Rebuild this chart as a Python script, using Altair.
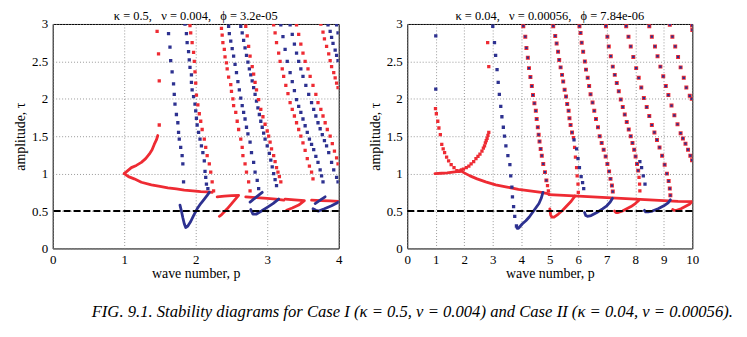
import altair as alt
import pandas as pd

SERIF = "Liberation Serif"
RED = "#ee2b33"
BLUE = "#2d3190"

Y_TICKS = [0, 0.5, 1, 1.5, 2, 2.5, 3]
REF_LEVEL = [0.5]

TITLE_LEFT = "κ = 0.5,\u00a0\u00a0 ν = 0.004,\u00a0\u00a0 ϕ = 3.2e-05"
TITLE_RIGHT = "κ = 0.04,\u00a0\u00a0 ν = 0.00056,\u00a0\u00a0 ϕ = 7.84e-06"
CAPTION = ("FIG. 9.1. Stability diagrams for Case I (κ = 0.5, ν = 0.004) "
           "and Case II (κ = 0.04, ν = 0.00056).")

# ---------------- Case I (left panel) : dotted branches ----------------
L_red_a_p = [1.49, 1.49, 1.48, 1.46]
L_red_a_t = [1.65, 2.24, 2.60, 2.90]
L_blue_b_p = [1.62, 1.64, 1.65, 1.67, 1.69, 1.70, 1.71, 1.73, 1.75, 1.76, 1.77, 1.79, 1.81, 1.82, 1.83]
L_blue_b_t = [2.87, 2.69, 2.51, 2.36, 2.20, 2.06, 1.93, 1.79, 1.68, 1.55, 1.46, 1.35, 1.24, 1.13, 0.89]
L_blue_c_p = [1.85, 1.87, 1.88, 1.90, 1.91, 1.92, 1.94, 1.94, 1.95, 1.97, 1.99, 2.00, 2.01, 2.02, 2.04, 2.06, 2.08, 2.10, 2.12, 2.13, 2.14, 2.15, 2.17]
L_blue_c_t = [3.00, 2.87, 2.75, 2.63, 2.52, 2.42, 2.32, 2.22, 2.12, 2.03, 1.93, 1.84, 1.74, 1.65, 1.55, 1.46, 1.37, 1.28, 1.17, 1.03, 0.95, 0.86, 0.80]
L_red_d_p = [1.92, 1.93, 1.95, 1.97, 1.98, 1.99, 2.00, 2.01, 2.03, 2.05, 2.07, 2.09, 2.12, 2.14, 2.16, 2.19, 2.21, 2.23, 2.25]
L_red_d_t = [2.98, 2.88, 2.75, 2.62, 2.50, 2.36, 2.21, 2.05, 1.92, 1.80, 1.70, 1.59, 1.46, 1.35, 1.24, 1.13, 1.02, 0.89, 0.77]
L_red_e_p = [2.36, 2.37, 2.38, 2.40, 2.41, 2.43, 2.44, 2.46, 2.49, 2.50, 2.52, 2.53, 2.56, 2.58, 2.60, 2.63, 2.65, 2.66, 2.69, 2.71, 2.74, 2.76]
L_red_e_t = [2.94, 2.85, 2.75, 2.66, 2.56, 2.48, 2.40, 2.29, 2.19, 2.10, 2.00, 1.91, 1.82, 1.70, 1.59, 1.46, 1.35, 1.24, 1.13, 1.02, 0.89, 0.77]
L_blue_f_p = [2.46, 2.47, 2.49, 2.51, 2.53, 2.55, 2.57, 2.59, 2.61, 2.63, 2.65, 2.67, 2.69, 2.71, 2.73, 2.76, 2.78, 2.81, 2.83, 2.86, 2.88]
L_blue_f_t = [2.97, 2.87, 2.77, 2.67, 2.57, 2.46, 2.35, 2.23, 2.12, 2.01, 1.91, 1.82, 1.73, 1.62, 1.53, 1.42, 1.28, 1.15, 1.02, 0.91, 0.80]
L_blue_g_p = [2.63, 2.65, 2.67, 2.69, 2.71, 2.73, 2.75, 2.77, 2.79, 2.81, 2.83, 2.85, 2.87, 2.89, 2.91, 2.93, 2.95, 2.97, 3.00, 3.03, 3.05, 3.07, 3.09, 3.11, 3.13]
L_blue_g_t = [2.97, 2.88, 2.78, 2.68, 2.58, 2.49, 2.40, 2.32, 2.24, 2.15, 2.06, 1.97, 1.88, 1.79, 1.70, 1.62, 1.54, 1.46, 1.37, 1.27, 1.18, 1.09, 1.00, 0.92, 0.84]
L_red_h_p = [2.70, 2.72, 2.74, 2.76, 2.79, 2.81, 2.83, 2.85, 2.88, 2.91, 2.94, 2.97, 3.00, 3.02, 3.04, 3.06, 3.09, 3.11, 3.13, 3.15, 3.17, 3.19]
L_red_h_t = [2.97, 2.84, 2.70, 2.57, 2.43, 2.33, 2.22, 2.12, 1.99, 1.86, 1.76, 1.66, 1.57, 1.50, 1.42, 1.33, 1.24, 1.16, 1.08, 1.02, 0.96, 0.89]
L_red_i_p = [3.09, 3.11, 3.13, 3.16, 3.18, 3.21, 3.23, 3.26, 3.29, 3.32, 3.35, 3.38, 3.41, 3.44, 3.47, 3.50, 3.53, 3.56, 3.59, 3.62, 3.64]
L_red_i_t = [2.99, 2.88, 2.75, 2.61, 2.50, 2.40, 2.30, 2.18, 2.07, 1.95, 1.86, 1.77, 1.68, 1.59, 1.50, 1.41, 1.31, 1.20, 1.10, 1.02, 0.93]
L_blue_j_p = [3.19, 3.22, 3.25, 3.28, 3.32, 3.35, 3.38, 3.41, 3.44, 3.47, 3.50, 3.53, 3.56, 3.59, 3.62, 3.65, 3.68, 3.71, 3.74, 3.76, 3.78]
L_blue_j_t = [2.99, 2.83, 2.66, 2.50, 2.35, 2.23, 2.11, 1.99, 1.90, 1.82, 1.73, 1.64, 1.55, 1.46, 1.39, 1.32, 1.23, 1.15, 1.05, 0.97, 0.89]
L_blue_k_p = [3.32, 3.35, 3.38, 3.41, 3.44, 3.47, 3.50, 3.54, 3.58, 3.62, 3.65, 3.68, 3.71, 3.74, 3.77, 3.80, 3.83, 3.86, 3.90, 3.93, 3.97, 3.99]
L_blue_k_t = [2.99, 2.86, 2.73, 2.61, 2.50, 2.40, 2.30, 2.18, 2.06, 1.95, 1.86, 1.77, 1.68, 1.60, 1.52, 1.44, 1.37, 1.28, 1.15, 1.05, 0.95, 0.89]
L_red_l_p = [3.41, 3.44, 3.47, 3.50, 3.53, 3.57, 3.60, 3.64, 3.68, 3.71, 3.75, 3.78, 3.81, 3.84, 3.88, 3.91, 3.94, 3.97, 3.99]
L_red_l_t = [2.99, 2.86, 2.73, 2.61, 2.50, 2.40, 2.30, 2.18, 2.06, 1.95, 1.86, 1.77, 1.68, 1.59, 1.50, 1.40, 1.30, 1.21, 1.13]
L_red_m_p = [3.75, 3.78, 3.80, 3.83, 3.86, 3.88, 3.90, 3.93, 3.95, 3.97, 3.99]
L_red_m_t = [3.00, 2.89, 2.80, 2.70, 2.60, 2.51, 2.43, 2.35, 2.28, 2.21, 2.15]
L_blue_n_p = [3.85, 3.88, 3.90, 3.92, 3.95, 3.97, 3.99]
L_blue_n_t = [2.99, 2.90, 2.82, 2.74, 2.65, 2.58, 2.51]
L_blue_o_p = [3.97, 3.99]
L_blue_o_t = [2.99, 2.88]

# ---------------- Case I : dense (continuous-looking) branches ----------------
L_red_cup_p = [1.00, 1.05, 1.10, 1.17, 1.24, 1.30, 1.35, 1.39, 1.42, 1.45, 1.47]
L_red_cup_t = [1.00, 1.04, 1.08, 1.11, 1.15, 1.20, 1.26, 1.32, 1.39, 1.45, 1.51]
L_red_clow_p = [1.00, 1.06, 1.14, 1.24, 1.38, 1.50, 1.61, 1.73, 1.84, 1.96, 2.07, 2.16, 2.23]
L_red_clow_t = [1.00, 0.96, 0.93, 0.885, 0.85, 0.83, 0.81, 0.795, 0.78, 0.77, 0.76, 0.755, 0.75]
L_blue_chk1_p = [1.78, 1.80, 1.82, 1.84, 1.86, 1.89, 1.93, 1.97, 2.02, 2.07, 2.12, 2.16, 2.19]
L_blue_chk1_t = [0.58, 0.50, 0.41, 0.33, 0.28, 0.30, 0.36, 0.44, 0.53, 0.60, 0.66, 0.71, 0.75]
L_red_seven1_p = [2.30, 2.40, 2.50, 2.60, 2.52, 2.44, 2.36, 2.33]
L_red_seven1_t = [0.69, 0.70, 0.705, 0.71, 0.62, 0.53, 0.45, 0.43]
L_red_h2_p = [2.70, 2.85, 3.00, 3.12, 3.23]
L_red_h2_t = [0.69, 0.68, 0.67, 0.66, 0.645]
L_red_seven2_p = [3.25, 3.38, 3.52, 3.44, 3.35, 3.27]
L_red_seven2_t = [0.66, 0.65, 0.64, 0.58, 0.54, 0.51]
L_red_h3_p = [3.62, 3.75, 3.88, 4.00]
L_red_h3_t = [0.645, 0.64, 0.635, 0.63]
L_blue_chk2_p = [2.77, 2.80, 2.85, 2.92, 3.00, 3.08, 3.16]
L_blue_chk2_t = [0.52, 0.46, 0.46, 0.50, 0.55, 0.60, 0.66]
L_blue_diag2_p = [2.76, 2.85, 2.93]
L_blue_diag2_t = [0.62, 0.69, 0.75]
L_blue_chk3_p = [3.64, 3.68, 3.72, 3.80, 3.90, 4.00]
L_blue_chk3_t = [0.53, 0.51, 0.50, 0.53, 0.57, 0.62]
L_blue_diag3_p = [3.67, 3.74, 3.81]
L_blue_diag3_t = [0.60, 0.645, 0.69]

# ---------------- Case II (right panel) : dotted branches ----------------
R_blue_1_p = [1.00, 1.00]
R_blue_1_t = [2.84, 2.13]
R_red_ul_p = [0.99, 1.02, 1.07, 1.11, 1.16, 1.21, 1.26, 1.31, 1.38, 1.45, 1.54, 1.64, 1.74, 1.82]
R_red_ul_t = [1.87, 1.80, 1.70, 1.61, 1.52, 1.39, 1.33, 1.28, 1.22, 1.17, 1.12, 1.08, 1.04, 1.03]
R_red_ur_p = [1.90, 1.97, 2.07, 2.16, 2.24, 2.33, 2.41, 2.48, 2.55, 2.62, 2.67, 2.71, 2.74, 2.77, 2.80, 2.83, 2.86]
R_red_ur_t = [1.05, 1.06, 1.08, 1.10, 1.13, 1.16, 1.20, 1.23, 1.26, 1.30, 1.34, 1.37, 1.41, 1.44, 1.47, 1.51, 1.55]
R_red_sp_p = [2.82, 2.86]
R_red_sp_t = [2.75, 2.43]
R_blue_3_p = [3.00, 3.06, 3.10, 3.15, 3.19, 3.23, 3.28, 3.32, 3.37, 3.41, 3.46, 3.53, 3.60, 3.63, 3.67, 3.69, 3.73, 3.77, 3.83]
R_blue_3_t = [2.97, 2.75, 2.58, 2.39, 2.22, 2.06, 1.90, 1.76, 1.62, 1.50, 1.37, 1.24, 1.12, 0.97, 0.82, 0.69, 0.56, 0.43, 0.30]
R_red_4b_p = [4.92, 4.95]
R_red_4b_t = [0.84, 0.77]
R_red_5b_p = [5.83, 5.87, 5.90, 5.94, 5.96, 5.99, 6.00]
R_red_5b_t = [1.48, 1.35, 1.22, 1.08, 0.97, 0.86, 0.75]
R_blue_5b_p = [5.85, 5.94, 5.99, 6.04, 6.10, 6.15, 6.19]
R_blue_5b_t = [1.45, 1.33, 1.20, 1.08, 0.96, 0.88, 0.80]
R_red_7b_p = [8.13, 8.15, 8.16]
R_red_7b_t = [0.95, 0.86, 0.77]
R_blue_7b_p = [8.16, 8.22, 8.28, 8.34]
R_blue_7b_t = [1.16, 1.08, 0.97, 0.86]

# branches where red and blue dots coincide
R_both_4_p = [4.07, 4.14, 4.18, 4.23, 4.27, 4.32, 4.37, 4.41, 4.46, 4.51, 4.54, 4.58, 4.61, 4.64, 4.68, 4.72, 4.77, 4.83, 4.88]
R_both_4_t = [2.97, 2.83, 2.68, 2.55, 2.41, 2.29, 2.17, 2.05, 1.94, 1.84, 1.73, 1.62, 1.52, 1.43, 1.33, 1.24, 1.13, 1.02, 0.91]
R_both_5_p = [5.12, 5.19, 5.24, 5.29, 5.33, 5.38, 5.43, 5.47, 5.52, 5.57, 5.61, 5.66, 5.69, 5.73, 5.78]
R_both_5_t = [2.97, 2.84, 2.74, 2.63, 2.52, 2.42, 2.32, 2.23, 2.12, 2.03, 1.93, 1.84, 1.74, 1.65, 1.55]
R_both_6_p = [6.04, 6.08, 6.12, 6.17, 6.23, 6.27, 6.33, 6.38, 6.43, 6.50, 6.56, 6.62, 6.69, 6.75, 6.82, 6.89, 6.96, 7.02, 7.08, 7.13, 7.18, 7.21]
R_both_6_t = [2.97, 2.88, 2.75, 2.63, 2.50, 2.39, 2.28, 2.17, 2.06, 1.95, 1.84, 1.73, 1.62, 1.50, 1.41, 1.32, 1.23, 1.13, 1.03, 0.93, 0.84, 0.76]
R_both_7_p = [6.97, 7.02, 7.07, 7.14, 7.21, 7.28, 7.35, 7.42, 7.49, 7.56, 7.63, 7.70, 7.77, 7.84, 7.90, 7.96, 8.01, 8.06, 8.10]
R_both_7_t = [2.97, 2.83, 2.70, 2.57, 2.43, 2.32, 2.21, 2.10, 1.99, 1.89, 1.79, 1.69, 1.59, 1.50, 1.41, 1.32, 1.23, 1.13, 1.04]
R_both_8_p = [7.68, 7.76, 7.84, 7.93, 8.03, 8.12, 8.21, 8.30, 8.40, 8.49, 8.58, 8.67, 8.76, 8.85, 8.94, 9.03, 9.11, 9.17, 9.21, 9.23]
R_both_8_t = [2.97, 2.83, 2.70, 2.56, 2.41, 2.28, 2.15, 2.01, 1.89, 1.77, 1.65, 1.55, 1.45, 1.35, 1.24, 1.12, 1.00, 0.90, 0.80, 0.71]
R_both_9_p = [8.49, 8.58, 8.69, 8.78, 8.88, 8.98, 9.07, 9.16, 9.27, 9.37, 9.48, 9.59, 9.67, 9.76, 9.85, 9.93, 9.99]
R_both_9_t = [2.97, 2.83, 2.70, 2.57, 2.43, 2.30, 2.17, 2.05, 1.91, 1.78, 1.66, 1.54, 1.47, 1.40, 1.32, 1.24, 1.18]
R_both_10_p = [9.21, 9.30, 9.40, 9.50, 9.59, 9.70, 9.79, 9.91, 9.98]
R_both_10_t = [2.99, 2.83, 2.70, 2.56, 2.42, 2.28, 2.15, 2.04, 2.00]
R_both_11_p = [9.99, 10.0]
R_both_11_t = [2.98, 2.92]

# ---------------- Case II : dense branches ----------------
R_red_h1_p = [0.97, 1.20, 1.40, 1.60, 1.80, 1.86]
R_red_h1_t = [1.00, 1.005, 1.01, 1.02, 1.03, 1.04]
R_red_long_p = [1.86, 2.0, 2.2, 2.45, 2.75, 3.1, 3.5, 3.9, 4.3, 4.7, 4.97]
R_red_long_t = [1.04, 1.01, 0.97, 0.93, 0.89, 0.85, 0.82, 0.79, 0.77, 0.75, 0.73]
R_red_hr_p = [4.97, 5.5, 6.0, 6.5, 7.0, 7.5, 8.0, 8.5, 9.0, 9.5, 10.0]
R_red_hr_t = [0.72, 0.71, 0.70, 0.69, 0.68, 0.67, 0.66, 0.65, 0.64, 0.63, 0.625]
R_blue_chk1_p = [3.85, 3.90, 4.04, 4.16, 4.28, 4.45, 4.62, 4.70, 4.76]
R_blue_chk1_t = [0.27, 0.27, 0.33, 0.37, 0.42, 0.51, 0.60, 0.67, 0.75]
R_red_chk1_p = [5.00, 5.03, 5.07, 5.15, 5.30, 5.45, 5.60, 5.75, 5.88]
R_red_chk1_t = [0.53, 0.45, 0.42, 0.42, 0.46, 0.51, 0.57, 0.63, 0.70]
R_blue_chk2_p = [6.22, 6.26, 6.32, 6.45, 6.65, 6.85, 7.00, 7.12, 7.20]
R_blue_chk2_t = [0.48, 0.44, 0.43, 0.44, 0.48, 0.53, 0.57, 0.62, 0.67]
R_red_chk2_p = [7.27, 7.32, 7.40, 7.55, 7.70, 7.85, 8.00, 8.12]
R_red_chk2_t = [0.50, 0.48, 0.48, 0.50, 0.53, 0.56, 0.60, 0.64]
R_blue_chk3_p = [8.32, 8.36, 8.45, 8.60, 8.80, 9.00, 9.15, 9.23]
R_blue_chk3_t = [0.51, 0.49, 0.49, 0.50, 0.53, 0.57, 0.61, 0.65]
R_red_chk3_p = [9.31, 9.36, 9.45, 9.60, 9.75, 9.90, 9.98]
R_red_chk3_t = [0.52, 0.51, 0.51, 0.53, 0.56, 0.59, 0.62]


def collect(groups):
    rows = []
    for name, color, ps, ts in groups:
        for i, (a, b) in enumerate(zip(ps, ts)):
            rows.append({"series": name, "color": color, "order": i, "p": a, "t": b})
    return pd.DataFrame(rows)


left_pts = collect([
    ("a", "red", L_red_a_p, L_red_a_t), ("b", "blue", L_blue_b_p, L_blue_b_t),
    ("c", "blue", L_blue_c_p, L_blue_c_t), ("d", "red", L_red_d_p, L_red_d_t),
    ("e", "red", L_red_e_p, L_red_e_t), ("f", "blue", L_blue_f_p, L_blue_f_t),
    ("g", "blue", L_blue_g_p, L_blue_g_t), ("h", "red", L_red_h_p, L_red_h_t),
    ("i", "red", L_red_i_p, L_red_i_t), ("j", "blue", L_blue_j_p, L_blue_j_t),
    ("k", "blue", L_blue_k_p, L_blue_k_t), ("l", "red", L_red_l_p, L_red_l_t),
    ("m", "red", L_red_m_p, L_red_m_t), ("n", "blue", L_blue_n_p, L_blue_n_t),
    ("o", "blue", L_blue_o_p, L_blue_o_t),
])
left_lines = collect([
    ("cup", "red", L_red_cup_p, L_red_cup_t), ("clow", "red", L_red_clow_p, L_red_clow_t),
    ("chk1", "blue", L_blue_chk1_p, L_blue_chk1_t), ("s1", "red", L_red_seven1_p, L_red_seven1_t),
    ("h2", "red", L_red_h2_p, L_red_h2_t), ("s2", "red", L_red_seven2_p, L_red_seven2_t),
    ("h3", "red", L_red_h3_p, L_red_h3_t), ("chk2", "blue", L_blue_chk2_p, L_blue_chk2_t),
    ("dg2", "blue", L_blue_diag2_p, L_blue_diag2_t), ("chk3", "blue", L_blue_chk3_p, L_blue_chk3_t),
    ("dg3", "blue", L_blue_diag3_p, L_blue_diag3_t),
])
right_pts = collect([
    ("b1", "blue", R_blue_1_p, R_blue_1_t), ("ul", "red", R_red_ul_p, R_red_ul_t),
    ("ur", "red", R_red_ur_p, R_red_ur_t), ("sp", "red", R_red_sp_p, R_red_sp_t),
    ("b3", "blue", R_blue_3_p, R_blue_3_t), ("r4b", "red", R_red_4b_p, R_red_4b_t),
    ("r5b", "red", R_red_5b_p, R_red_5b_t), ("b5b", "blue", R_blue_5b_p, R_blue_5b_t),
    ("r7b", "red", R_red_7b_p, R_red_7b_t), ("b7b", "blue", R_blue_7b_p, R_blue_7b_t),
])
right_both = collect([
    ("x4", "both", R_both_4_p, R_both_4_t), ("x5", "both", R_both_5_p, R_both_5_t),
    ("x6", "both", R_both_6_p, R_both_6_t), ("x7", "both", R_both_7_p, R_both_7_t),
    ("x8", "both", R_both_8_p, R_both_8_t), ("x9", "both", R_both_9_p, R_both_9_t),
    ("x10", "both", R_both_10_p, R_both_10_t), ("x11", "both", R_both_11_p, R_both_11_t),
])
right_lines = collect([
    ("h1", "red", R_red_h1_p, R_red_h1_t), ("long", "red", R_red_long_p, R_red_long_t),
    ("hr", "red", R_red_hr_p, R_red_hr_t), ("bc1", "blue", R_blue_chk1_p, R_blue_chk1_t),
    ("rc1", "red", R_red_chk1_p, R_red_chk1_t), ("bc2", "blue", R_blue_chk2_p, R_blue_chk2_t),
    ("rc2", "red", R_red_chk2_p, R_red_chk2_t), ("bc3", "blue", R_blue_chk3_p, R_blue_chk3_t),
    ("rc3", "red", R_red_chk3_p, R_red_chk3_t),
])

color_scale = alt.Scale(domain=["red", "blue"], range=[RED, BLUE])


def make_panel(pts, lines, both, xmax, title_text, width):
    xenc = alt.X("p:Q", scale=alt.Scale(domain=[0, xmax], nice=False, zero=False),
                 axis=alt.Axis(values=list(range(xmax + 1)), title="wave number, p"))
    yenc = alt.Y("t:Q", scale=alt.Scale(domain=[0, 3], nice=False),
                 axis=alt.Axis(values=Y_TICKS, title="amplitude, τ", format="~g"))
    cenc = alt.Color("color:N", scale=color_scale, legend=None)
    layers = [
        alt.Chart(lines).mark_line(strokeWidth=2.8, strokeCap="round", strokeJoin="round",
                                   clip=True).encode(
            x=xenc, y=yenc, color=cenc, detail="series:N", order="order:Q"),
        alt.Chart(pts).mark_square(size=11, opacity=1, clip=True).encode(x=xenc, y=yenc, color=cenc),
    ]
    if both is not None:
        layers.append(alt.Chart(both).mark_square(size=16, opacity=1, color=RED, clip=True)
                      .encode(x=xenc, y=yenc))
        layers.append(alt.Chart(both).mark_square(size=5, opacity=1, color=BLUE, clip=True)
                      .encode(x=xenc, y=yenc))
    layers.append(alt.Chart(pd.DataFrame({"t": REF_LEVEL})).mark_rule(
        color="black", strokeWidth=2, strokeDash=[7, 3]).encode(y=yenc))
    return alt.layer(*layers).properties(
        width=width, height=226,
        title=alt.TitleParams(title_text, font=SERIF, fontSize=12.5, fontWeight="normal",
                              color="black", offset=-4),
    )


left = make_panel(left_pts, left_lines, None, 4, TITLE_LEFT, 288)
right = make_panel(right_pts, right_lines, right_both, 10, TITLE_RIGHT, 287)

chart = alt.hconcat(left, right, spacing=25).properties(
    title=alt.TitleParams(CAPTION, orient="bottom", anchor="start", dx=79, offset=24,
                          font=SERIF, fontSize=16.75, fontStyle="italic",
                          fontWeight="normal", color="black"),
    padding={"left": 5, "top": 0, "right": 5, "bottom": 5},
).configure_view(stroke="black", strokeWidth=1).configure_axis(
    labelFont=SERIF, labelFontSize=13, labelColor="black", labelFlush=False,
    titleFont=SERIF, titleFontSize=14, titleFontWeight="normal", titleColor="black",
    grid=True, gridColor="#808080", gridDash=[1, 2], gridWidth=0.8,
    domain=False, ticks=False, labelPadding=5,
).configure_axisX(titlePadding=0).configure_axisY(titlePadding=4)

chart.save("out.html", embed_options={"renderer": "svg", "actions": False})
